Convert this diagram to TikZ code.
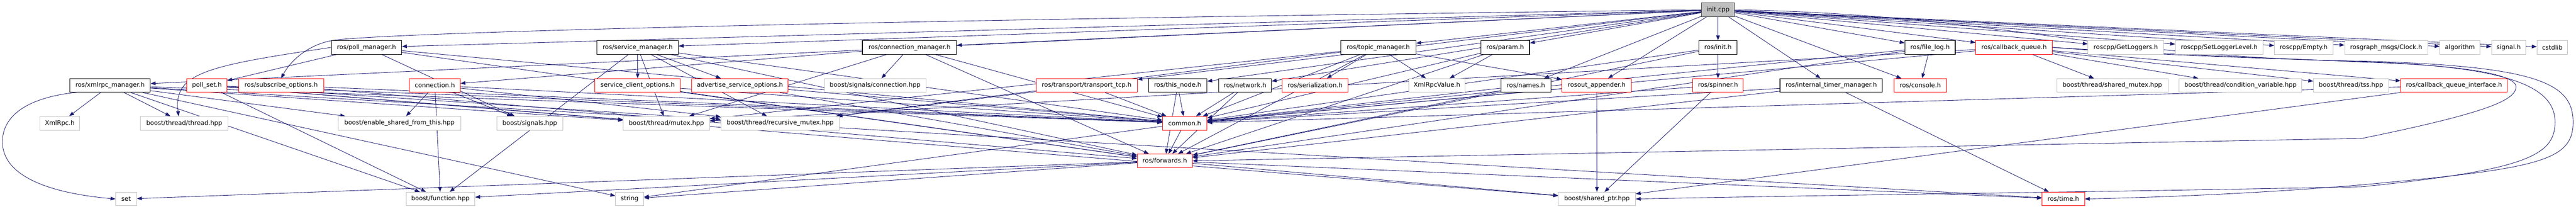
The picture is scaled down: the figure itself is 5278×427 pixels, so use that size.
\documentclass[tikz,border=0pt]{standalone}
\usepackage{fontspec}
\setmainfont{DejaVu Sans}
\usetikzlibrary{arrows.meta}
\definecolor{edgeblue}{HTML}{191970}
\definecolor{extgray}{HTML}{BFBFBF}
\definecolor{rootfill}{HTML}{BFBFBF}
\definecolor{rootline}{HTML}{404040}
\newcommand\hdrfont{\fontsize{12.7}{15}\selectfont}
\pgfdeclarelayer{bglayer}
\pgfdeclarelayer{edgelayer}
\pgfsetlayers{bglayer,edgelayer,main}
\tikzset{
  hdr/.style={draw, rectangle, minimum height=28pt, inner sep=0pt, font=\hdrfont, line width=1pt, fill=white},
  blk/.style={hdr, draw=black, line width=1.2pt},
  rednode/.style={hdr, draw=red},
  ext/.style={hdr, draw=extgray},
  root/.style={hdr, draw=rootline, fill=rootfill, line width=1.2pt},
  dep/.style={draw=edgeblue, line width=0.9pt, -{Triangle[length=10pt,width=7.5pt]}},
}
\begin{document}
\begin{tikzpicture}[x=1pt,y=-1pt]
\begin{pgfonlayer}{bglayer}
\fill[white] (0,0) rectangle (5278,427);
\end{pgfonlayer}
\useasboundingbox (0,0) rectangle (5278,427);
% row 0
\node[root, minimum width=68pt] (initcpp) at (3520,20) {init.cpp};
% row 1
\node[blk, minimum width=144pt] (pollmgr) at (751,97) {ros/poll\_manager.h};
\node[blk, minimum width=167pt] (srvmgr) at (1306.5,97) {ros/service\_manager.h};
\node[blk, minimum width=193pt] (connmgr) at (1863.5,97) {ros/connection\_manager.h};
\node[blk, minimum width=154pt] (topicmgr) at (2824,97) {ros/topic\_manager.h};
\node[blk, minimum width=100pt] (param) at (3084,97) {ros/param.h};
\node[blk, minimum width=78pt] (inith) at (3520,97) {ros/init.h};
\node[blk, minimum width=103pt] (filelog) at (3954.5,97) {ros/file\_log.h};
\node[rednode, minimum width=157pt] (cbq) at (4126.5,97) {ros/callback\_queue.h};
\node[ext, minimum width=155pt] (getlog) at (4355.5,97) {roscpp/GetLoggers.h};
\node[ext, minimum width=180pt] (setlog) at (4547,97) {roscpp/SetLoggerLevel.h};
\node[ext, minimum width=120pt] (empty) at (4720,97) {roscpp/Empty.h};
\node[ext, minimum width=170pt] (clock) at (4889,97) {rosgraph\_msgs/Clock.h};
\node[ext, minimum width=82pt] (algo) at (5040,97) {algorithm};
\node[ext, minimum width=70pt] (signalh) at (5140,97) {signal.h};
\node[ext, minimum width=63pt] (cstdlib) at (5229.5,97) {cstdlib};
% row 2
\node[blk, minimum width=165pt] (xmlrpc) at (225.5,174.7) {ros/xmlrpc\_manager.h};
\node[rednode, minimum width=82pt] (pollset) at (424,174.7) {poll\_set.h};
\node[rednode, minimum width=174pt] (subopt) at (576,174.7) {ros/subscribe\_options.h};
\node[rednode, minimum width=104pt] (conn) at (891,174.7) {connection.h};
\node[rednode, minimum width=175pt] (sco) at (1306.5,174.7) {service\_client\_options.h};
\node[rednode, minimum width=198pt] (aso) at (1516,174.7) {advertise\_service\_options.h};
\node[ext, minimum width=208pt] (sigconn) at (1793,174.7) {boost/signals/connection.hpp};
\node[rednode, minimum width=207pt] (tcp) at (2226.5,174.7) {ros/transport/transport\_tcp.h};
\node[blk, minimum width=120pt] (thisnode) at (2413,174.7) {ros/this\_node.h};
\node[blk, minimum width=108pt] (network) at (2551,174.7) {ros/network.h};
\node[rednode, minimum width=135pt] (serial) at (2694.5,174.7) {ros/serialization.h};
\node[ext, minimum width=116pt] (xrv) at (2944,174.7) {XmlRpcValue.h};
\node[blk, minimum width=103pt] (names) at (3126.5,174.7) {ros/names.h};
\node[rednode, minimum width=143pt] (rosout) at (3271.5,174.7) {rosout\_appender.h};
\node[rednode, minimum width=104pt] (spinner) at (3520,174.7) {ros/spinner.h};
\node[blk, minimum width=210pt] (itm) at (3752,174.7) {ros/internal\_timer\_manager.h};
\node[rednode, minimum width=107pt] (console) at (3934.5,174.7) {ros/console.h};
\node[ext, minimum width=228pt] (shmutex) at (4328,174.7) {boost/thread/shared\_mutex.hpp};
\node[ext, minimum width=251pt] (condvar) at (4590.5,174.7) {boost/thread/condition\_variable.hpp};
\node[ext, minimum width=154pt] (tss) at (4817,174.7) {boost/thread/tss.hpp};
\node[rednode, minimum width=218pt] (cbqi) at (5028,174.7) {ros/callback\_queue\_interface.h};
% row 3
\node[ext, minimum width=81pt] (xmlrpch) at (122.5,252) {XmlRpc.h};
\node[ext, minimum width=179pt] (thread) at (377.5,252) {boost/thread/thread.hpp};
\node[ext, minimum width=251pt] (esft) at (818.5,252) {boost/enable\_shared\_from\_this.hpp};
\node[ext, minimum width=135pt] (signals) at (1085.5,252) {boost/signals.hpp};
\node[ext, minimum width=177pt] (mutex) at (1365.5,252) {boost/thread/mutex.hpp};
\node[ext, minimum width=243pt] (rmutex) at (1598.5,252) {boost/thread/recursive\_mutex.hpp};
\node[rednode, minimum width=91pt] (common) at (2427.5,252) {common.h};
% row 4
\node[rednode, minimum width=113pt] (fwd) at (2386.5,329) {ros/forwards.h};
% row 5
\node[ext, minimum width=43pt] (set) at (258.5,407) {set};
\node[ext, minimum width=141pt] (func) at (902.5,407) {boost/function.hpp};
\node[ext, minimum width=58pt] (string) at (1290,407) {string};
\node[ext, minimum width=158pt] (sptr) at (3272,407) {boost/shared\_ptr.hpp};
\node[rednode, minimum width=87pt] (timeh) at (4227.5,407) {ros/time.h};

\begin{pgfonlayer}{edgelayer}
\foreach \tg in {inith,names,xmlrpc,pollmgr,connmgr,topicmgr,srvmgr,thisnode,network,filelog,cbq,param,rosout,tcp,itm,getlog,setlog,empty,console,clock,algo,signalh,cstdlib}
  \draw[dep] (initcpp) -- (\tg);
\draw[dep] (initcpp.west) .. controls (1500,45) and (750,70) .. (680,83) .. controls (630,92) and (595,125) .. (subopt.north);
\draw[dep] (initcpp.east) .. controls (4100,30) and (4300,118) .. (4840,125) .. controls (5200,135) and (5272,170) .. (5272,250) .. controls (5272,330) and (5200,345) .. (4840,378) .. controls (4600,398) and (4400,404) .. (timeh.east);
\foreach \tg in {xmlrpch,thread,string,func,mutex,esft,common,timeh}
  \draw[dep] (xmlrpc) -- (\tg);
\draw[dep] (158,188.7) .. controls (50,200) and (5,240) .. (5,290) .. controls (5,360) and (100,395) .. (set.west);
\draw[dep] (pollmgr.west) .. controls (420,135) and (355,150) .. (366,237.7);
\foreach \tg in {pollset,signals,common,fwd}
  \draw[dep] (pollmgr) -- (\tg);
\foreach \tg in {sco,aso,fwd,common,mutex,rmutex,func}
  \draw[dep] (srvmgr) -- (\tg);
\foreach \tg in {conn,sigconn,common,fwd,mutex}
  \draw[dep] (connmgr) -- (\tg);
\foreach \tg in {serial,xrv,rosout,fwd,common,mutex,rmutex}
  \draw[dep] (topicmgr) -- (\tg);
\foreach \tg in {xrv,common,fwd}
  \draw[dep] (param) -- (\tg);
\foreach \tg in {spinner,common,fwd}
  \draw[dep] (inith) -- (\tg);
\foreach \tg in {console,common,fwd}
  \draw[dep] (filelog) -- (\tg);
\foreach \tg in {cbqi,shmutex,condvar,tss,common,mutex}
  \draw[dep] (cbq) -- (\tg);
\draw[dep] (cbq.east) .. controls (4400,112) and (4600,118) .. (4840,126) .. controls (5150,136) and (5235,180) .. (5235,250) .. controls (5235,320) and (5170,348) .. (4840,382) .. controls (4300,393) and (3800,398) .. (sptr.east);
\draw[dep] (cbq.east) .. controls (4500,115) and (4700,120) .. (4840,127) .. controls (5100,135) and (5160,160) .. (5155,180) .. controls (5150,205) and (5100,230) .. (4840,283) -- (fwd.east);
\foreach \tg in {common,sptr,func,mutex,rmutex}
  \draw[dep] (pollset) -- (\tg);
\foreach \tg in {common,fwd}
  \draw[dep] (subopt) -- (\tg);
\foreach \tg in {esft,signals,func,rmutex,common}
  \draw[dep] (conn) -- (\tg);
\foreach \tg in {common,fwd}
  \draw[dep] (sco) -- (\tg);
\foreach \tg in {common,fwd}
  \draw[dep] (aso) -- (\tg);
\foreach \tg in {common,rmutex}
  \draw[dep] (tcp) -- (\tg);
\foreach \tg in {common,fwd}
  \draw[dep] (thisnode) -- (\tg);
\foreach \tg in {common,fwd}
  \draw[dep] (network) -- (\tg);
\foreach \tg in {common,fwd}
  \draw[dep] (names) -- (\tg);
\foreach \tg in {sptr,common}
  \draw[dep] (rosout) -- (\tg);
\foreach \tg in {sptr,common}
  \draw[dep] (spinner) -- (\tg);
\foreach \tg in {timeh,fwd,common}
  \draw[dep] (itm) -- (\tg);
\foreach \tg in {common,sptr}
  \draw[dep] (cbqi) -- (\tg);
\foreach \tg in {fwd,string}
  \draw[dep] (common) -- (\tg);
\foreach \tg in {set,func,string,sptr,timeh}
  \draw[dep] (fwd) -- (\tg);
\end{pgfonlayer}
\end{tikzpicture}
\end{document}
